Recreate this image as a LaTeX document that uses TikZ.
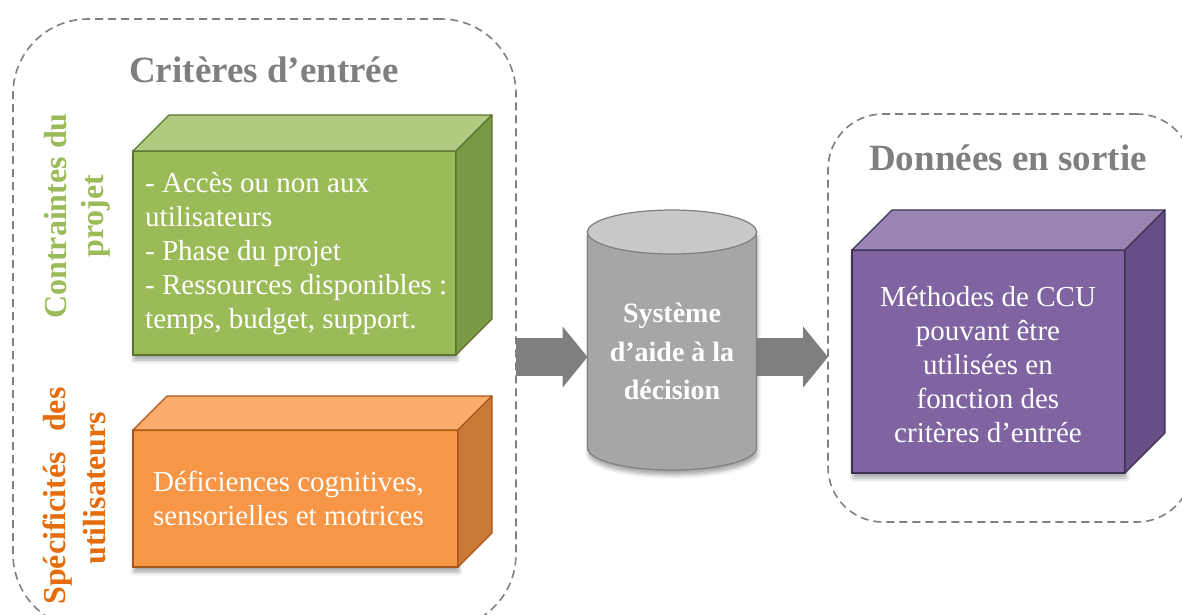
\documentclass[tikz,border=0pt]{standalone}
\usepackage{fontspec}
\setmainfont{Liberation Serif}
\usetikzlibrary{arrows.meta,shadows.blur}
\definecolor{dashgray}{HTML}{808080}
\definecolor{titlegray}{HTML}{7F7F7F}
\definecolor{arrowgray}{HTML}{7F7F7F}
\definecolor{gfront}{HTML}{9BBB59}
\definecolor{gtop}{HTML}{B0CA7F}
\definecolor{gside}{HTML}{7A9944}
\definecolor{gline}{HTML}{5B7530}
\definecolor{ofront}{HTML}{F79646}
\definecolor{otop}{HTML}{F9AC6C}
\definecolor{oside}{HTML}{C97A36}
\definecolor{oline}{HTML}{A9561A}
\definecolor{pfront}{HTML}{8064A2}
\definecolor{ptop}{HTML}{9A84B6}
\definecolor{pside}{HTML}{664F86}
\definecolor{pline}{HTML}{3F3151}
\definecolor{cbody}{HTML}{A6A6A6}
\definecolor{ctop}{HTML}{C9C9C9}
\definecolor{cline}{HTML}{7F7F7F}
\definecolor{labgreen}{HTML}{9BBB59}
\definecolor{laborange}{HTML}{E46C0A}
\begin{document}
\begin{tikzpicture}[x=1pt,y=-1pt,
  container/.style={draw=dashgray, line width=1.6pt, dash pattern=on 8pt off 5pt, rectangle, inner sep=0pt, outer sep=0pt},
  title/.style={font=\fontsize{37}{42}\selectfont\bfseries, text=titlegray, inner sep=0pt},
  sidelabel/.style={font=\fontsize{32}{37}\selectfont\bfseries, rotate=90, align=center, inner sep=0pt},
  front/.style={rectangle, line width=1.2pt, inner sep=0pt, outer sep=0pt,
    blur shadow={shadow xshift=1pt, shadow yshift=-5pt, shadow blur radius=4pt, shadow opacity=35}},
  face/.style={line width=1.2pt, line join=round},
  boxtext/.style={font=\fontsize{29}{34}\selectfont, text=white, inner sep=0pt},
  systext/.style={font=\fontsize{28}{38.5}\selectfont\bfseries, text=white, align=center, inner sep=0pt},
  bigarrow/.style={draw=arrowgray, line width=38pt, -{Triangle[length=25pt, width=60pt]}}
]
\useasboundingbox (0,0) rectangle (1182,614);

% containers
\node[container, rounded corners=75pt, minimum width=503pt, minimum height=610pt] (inbox) at (264.5,324) {};
\node[container, rounded corners=55pt, minimum width=364pt, minimum height=408pt] (outbox) at (1010,318) {};

% titles
\node[title] (intitle) at (264,70) {Critères d’entrée};
\node[title] (outtitle) at (1008,158) {Données en sortie};

% side labels
\node[sidelabel, text=labgreen] (lab1) at (77,216) {Contraintes du\\projet};
\node[sidelabel, text=laborange] (lab2a) at (58,496) {Spécificités\hspace{20pt}des};
\node[sidelabel, text=laborange] (lab2b) at (95,488) {utilisateurs};

% green box
\node[front, draw=gline, fill=gfront, minimum width=323pt, minimum height=204pt] (g) at (294.5,253) {};
\draw[face, draw=gline, fill=gtop] (g.north west) -- ([shift={(36,-36)}]g.north west) -- ([shift={(36,-36)}]g.north east) -- (g.north east) -- cycle;
\draw[face, draw=gline, fill=gside] (g.north east) -- ([shift={(36,-36)}]g.north east) -- ([shift={(36,-36)}]g.south east) -- (g.south east) -- cycle;
\node[boxtext, anchor=west, align=left] (gt) at ([shift={(12,1)}]g.west) {- Accès ou non aux\\utilisateurs\\- Phase du projet\\- Ressources disponibles :\\temps, budget, support.};

% orange box
\node[front, draw=oline, fill=ofront, minimum width=325pt, minimum height=137pt] (o) at (295.5,498.5) {};
\draw[face, draw=oline, fill=otop] (o.north west) -- ([shift={(34,-34)}]o.north west) -- ([shift={(34,-34)}]o.north east) -- (o.north east) -- cycle;
\draw[face, draw=oline, fill=oside] (o.north east) -- ([shift={(34,-34)}]o.north east) -- ([shift={(34,-34)}]o.south east) -- (o.south east) -- cycle;
\node[boxtext, anchor=west, align=left] (ot) at ([shift={(20,0)}]o.west) {Déficiences cognitives,\\sensorielles et motrices};

% purple box
\node[front, draw=pline, fill=pfront, minimum width=273pt, minimum height=223pt] (p) at (988.5,361.5) {};
\draw[face, draw=pline, fill=ptop] (p.north west) -- ([shift={(40,-40)}]p.north west) -- ([shift={(40,-40)}]p.north east) -- (p.north east) -- cycle;
\draw[face, draw=pline, fill=pside] (p.north east) -- ([shift={(40,-40)}]p.north east) -- ([shift={(40,-40)}]p.south east) -- (p.south east) -- cycle;
\node[boxtext, align=center] (pt) at (988,364.5) {Méthodes de CCU\\pouvant être\\utilisées en\\fonction des\\critères d’entrée};

% cylinder
\node[minimum width=169pt, minimum height=216pt, inner sep=0pt, outer sep=0pt] (sys) at (672,340) {};
\path[draw=cline, line width=1.2pt, fill=cbody,
  blur shadow={shadow xshift=1pt, shadow yshift=-5pt, shadow blur radius=4pt, shadow opacity=35}]
  (sys.north west) -- (sys.south west) arc[start angle=180, end angle=0, x radius=84.5, y radius=22] -- (sys.north east) -- cycle;
\draw[draw=cline, line width=1.2pt, fill=ctop] (sys.north) ellipse[x radius=84.5, y radius=22];
\node[systext] (syst) at (672,351.5) {Système\\d’aide à la\\décision};

% arrows
\coordinate (ay) at (0,357);
\draw[bigarrow] (inbox.east |- ay) -- (sys.west |- ay);
\draw[bigarrow] (sys.east |- ay) -- (outbox.west |- ay);
\end{tikzpicture}
\end{document}
